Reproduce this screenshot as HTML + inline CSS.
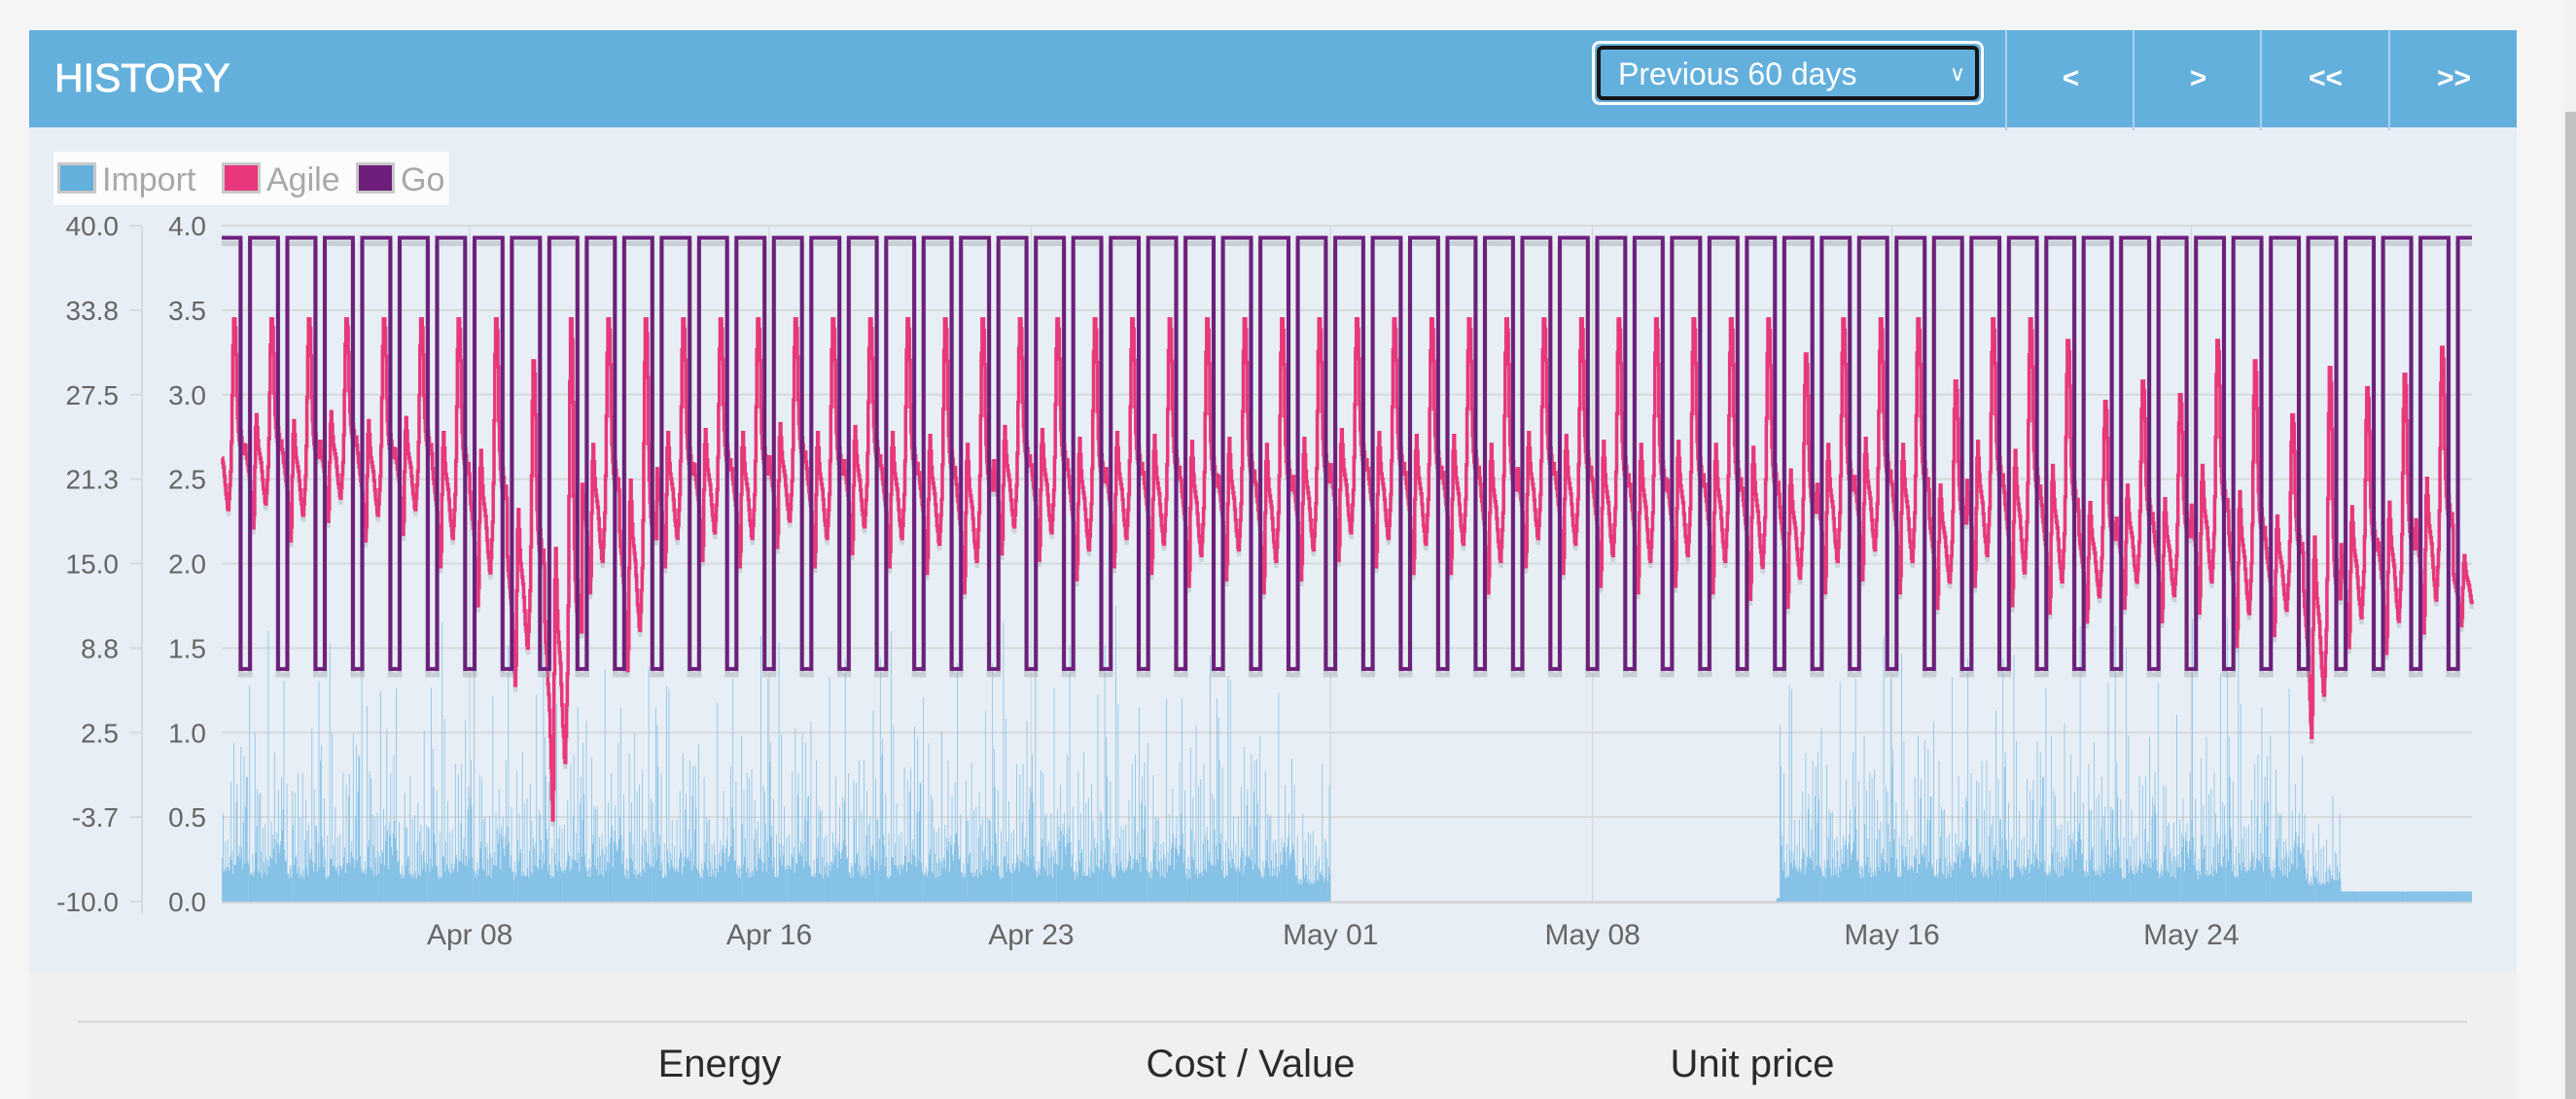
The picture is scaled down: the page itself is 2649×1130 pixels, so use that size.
<!DOCTYPE html>
<html><head><meta charset="utf-8">
<style>
html,body{margin:0;padding:0;width:2649px;height:1130px;overflow:hidden;background:#f5f5f5;font-family:"Liberation Sans",sans-serif;}
#panel{position:absolute;left:30px;top:31px;width:2558px;height:969px;background:#e7eef5;}
#header{position:absolute;left:0;top:0;width:2558px;height:100px;background:#64b0dd;}
#title{position:absolute;left:26px;top:26px;color:#fff;font-size:41px;-webkit-text-stroke:0.8px #fff;}
#sel{position:absolute;left:1607px;top:11px;width:403px;height:66px;border:3px solid #fff;border-radius:8px;box-sizing:border-box;}
#selin{position:absolute;left:2px;top:2px;right:2px;bottom:2px;border:4px solid #151515;border-radius:6px;background:#64b0dd;color:#fff;font-size:32px;line-height:50px;padding-left:18px;}
#selin span{position:absolute;right:10px;top:0;font-size:22px;}
.btn{position:absolute;top:0;height:103px;width:131px;border-left:2px solid #a9d2ec;color:#fff;font-weight:bold;font-size:30px;text-align:center;line-height:100px;}
#bottom{position:absolute;left:30px;top:1000px;width:2558px;height:130px;background:#f0f0f0;}
#sep{position:absolute;left:50px;top:49px;width:2457px;height:3px;background:#dcdcdc;}
.col{position:absolute;top:72px;font-size:40px;color:#2b2b2b;transform:translateX(-50%);}
#scroll{position:absolute;left:2638px;top:115px;width:11px;height:1015px;background:#c1c1c1;}
#track{position:absolute;left:2636px;top:0;width:13px;height:1130px;background:#f1f1f1;}
</style></head>
<body>
<div id="track"></div>
<div id="scroll"></div>
<div id="panel">
  <div id="header">
    <div id="title">HISTORY</div>
    <div id="sel"><div id="selin">Previous 60 days<span>&#8744;</span></div></div>
    <div class="btn" style="left:2032px">&lt;</div>
    <div class="btn" style="left:2163px">&gt;</div>
    <div class="btn" style="left:2294px">&lt;&lt;</div>
    <div class="btn" style="left:2426px">&gt;&gt;</div>
  </div>
</div>
<svg id="chart" width="2649" height="1000" style="position:absolute;left:0;top:0"></svg>
<div id="bottom">
  <div id="sep"></div>
  <div class="col" style="left:710px">Energy</div>
  <div class="col" style="left:1256px">Cost / Value</div>
  <div class="col" style="left:1772px">Unit price</div>
</div>
<script>
// ---- data ----
const leftTicks = ["40.0","33.8","27.5","21.3","15.0","8.8","2.5","-3.7","-10.0"];
const rightTicks = ["4.0","3.5","3.0","2.5","2.0","1.5","1.0","0.5","0.0"];
const xTickLabels = ["Apr 08","Apr 16","Apr 23","May 01","May 08","May 16","May 24"];
const xTickDays = [7,15,22,30,37,45,53]; // days after Apr 01
const chartStartDay = 0.37, chartEndDay = 60.5;
// Go tariff (p/kWh) high/low and low window hours
const goRates = [39.1, 7.2];
const goLowWindow = [21, 3];
// Agile daily values (p/kWh), one per day Apr 01 .. May 31
const agilePeak = [33.1,33.1,33.1,33.1,33.1,33.1,33.1,33.1,30.0,33.1,33.1,33.1,33.1,33.1,33.1,33.1,33.1,33.1,33.1,33.1,33.1,33.1,33.1,33.1,33.1,33.1,33.1,33.1,33.1,33.1,33.1,33.1,33.1,33.1,33.1,33.1,33.1,33.1,33.1,33.1,33.1,33.1,30.5,33.1,33.1,33.1,28.5,33.1,33.1,31.5,27.0,28.5,27.5,31.5,30.0,26.0,29.5,28.0,29.0,31.0,20.0];
const agileLow = [16.5,17.0,16.0,17.5,16.0,16.5,14.0,11.0,5.0,-5.5,12.0,6.0,14.0,14.5,14.0,15.5,14.0,15.0,14.0,13.5,12.0,15.0,14.5,13.0,14.0,13.5,12.5,13.0,12.0,13.0,14.5,14.0,13.5,13.5,12.0,14.0,13.5,12.5,12.0,12.5,12.0,11.5,11.0,12.0,13.0,12.0,11.0,12.5,11.0,10.5,10.0,11.0,10.0,10.5,8.0,9.0,1.0,8.0,7.5,9.0,10.0];
// half-hourly shape (0 = daily low, 1 = daily peak)
const agileShape = [0.42,0.38,0.36,0.33,0.3,0.28, 0.25,0.2,0.14,0.08,0.04,0.1, 0.32,0.5,0.56,0.5,0.44,0.4, 0.38,0.36,0.34,0.3,0.26,0.22, 0.2,0.16,0.15,0.2,0.26,0.32, 0.45,0.66,0.88,1,1,0.96, 0.84,0.66,0.56,0.5,0.46,0.44, 0.5,0.47,0.43,0.4,0.44,0.4];
// Import (kWh): per-day scale and half-hourly shape
const importScale = [1,1.1,0.9,1,1.2,0.8,1,1.05,0.9,1,1.1,0.95,1,0.85,1,1.1,0.9,1,1.05,0.95,0.9,1,1.1,0.9,1,0.95,1,1.05,0.9,0.5,0,0,0,0,0,0,0,0,0,0,0,0,1,0.95,1,1.05,0.9,1,0.95,1,1.05,0.9,0.95,1,1,1,0.4,0,0,0,0];
const importBase = [0.1,0.1,0.1,0.1,0.1,0.1,0.1,0.1,0.1,0.1,0.1,0.1,0.1,0.1,0.1,0.1,0.1,0.1,0.1,0.1,0.1,0.1,0.1,0.1,0.1,0.1,0.1,0.1,0.1,0.08,0,0,0,0,0,0,0,0,0,0,0,0.02,0.1,0.1,0.1,0.1,0.1,0.1,0.1,0.1,0.1,0.1,0.1,0.1,0.1,0.1,0.08,0.06,0.06,0.06,0.06];
const importShape = [0.9,1.5,0.6,0.3,0.2,1.2, 0.15,0.1,0.08,0.3,0.1,0.1, 1.6,0.4,0.3,1.1,0.2,0.5, 0.15,0.9,0.2,0.1,0.6,0.15, 0.12,0.7,0.2,0.1,0.3,1.3, 0.2,0.4,0.15,0.8,0.25,0.3, 0.5,1.4,0.3,0.2,0.6,0.3, 1.0,0.4,0.2,0.5,1.5,0.3];

// ---- scales ----
const PL=228, PR=2542, PT=232, PB=927;
const x = d => PL + (d - chartStartDay) / (chartEndDay - chartStartDay) * (PR - PL);
const yL = v => PB - (v + 10) / 50 * (PB - PT);
const yR = v => PB - v / 4 * (PB - PT);
const NS='http://www.w3.org/2000/svg';
const svg=document.getElementById('chart');
function mk(tag, attrs){const e=document.createElementNS(NS,tag);for(const k in attrs)e.setAttribute(k,attrs[k]);svg.appendChild(e);return e;}

// legend
let lg=mk('rect',{x:55,y:156,width:407,height:55,fill:'#fbfcfe'});


const legItems=[["Import","#64b0dd",59,105],["Agile","#e8377b",228,274],["Go","#6d1f7b",366,412]];
legItems.forEach(it=>{
  const s=mk('rect',{x:it[2]+1.5,y:168.5,width:37,height:29,fill:it[1],stroke:'#c8c8c8','stroke-width':3});
  
  
  const t=mk('text',{x:it[3],y:196,fill:'#a8a8a8','font-size':34});
  t.textContent=it[0];
  
  
});

// grid + y ticks
rightTicks.forEach((lab,i)=>{
  const yy=PT+i*(PB-PT)/8;
  const g=mk('line',{x1:PL,x2:PR,y1:yy,y2:yy,stroke:'#d6dadd','stroke-width':2});
  
  
  const tk=mk('line',{x1:134,x2:146,y1:yy,y2:yy,stroke:'#d6dadd','stroke-width':2});
  
  
  const tl=mk('text',{x:122,y:yy+10,fill:'#666','font-size':28,'text-anchor':'end'});
  tl.textContent=leftTicks[i];
  
  
  const tr=mk('text',{x:212,y:yy+10,fill:'#666','font-size':28,'text-anchor':'end'});
  tr.textContent=lab;
  
  
});
const ax=mk('line',{x1:146,x2:146,y1:PT,y2:PB+12,stroke:'#d6dadd','stroke-width':2});


xTickLabels.forEach((lab,i)=>{
  const xx=x(xTickDays[i]);
  const g=mk('line',{x1:xx,x2:xx,y1:PT,y2:PB,stroke:'#d6dadd','stroke-width':1.5});
  
  
  const t=mk('text',{x:xx,y:971,fill:'#666','font-size':30,'text-anchor':'middle'});
  t.textContent=lab;
  
  
});
const xa=mk('line',{x1:PL,x2:PR,y1:PB+1,y2:PB+1,stroke:'#d0d4d8','stroke-width':2});



// import bars
let ip='';
const bw=(x(1)-x(0))/48;
for(let d=0;d<agilePeak.length;d++){
  for(let s=0;s<48;s++){
    const t=d+s/48;
    if(t<chartStartDay||t>=chartEndDay) continue;
    if(d===41 && s<44) continue;
    const v=importBase[d]+importScale[d]*importShape[s]*(0.7+0.3*((d*7+s*3)%5)/4)*((s+d)%3===0?1.05:0.55);
    if(v<=0) continue;
    const xx=x(t), yy=yR(Math.min(v,1.75));
    ip+='M'+xx.toFixed(1)+' '+PB+'V'+yy.toFixed(1)+'h'+bw.toFixed(2)+'V'+PB+'Z';
  }
}
const imp=mk('path',{d:ip,fill:'#86c1e6',stroke:'none'});



// agile line
let ap=[];
for(let d=0;d<agilePeak.length;d++){
  for(let s=0;s<48;s++){
    const t=d+s/48;
    if(t<chartStartDay||t>chartEndDay) continue;
    const v=agileLow[d]+agileShape[s]*(agilePeak[d]-agileLow[d]);
    ap.push([x(t),yL(v)]);
  }
}
let ad='';
ap.forEach((p,i)=>{ad+=(i?'H'+p[0].toFixed(1)+'V':'M'+p[0].toFixed(1)+' ')+p[1].toFixed(1);});
const ash=mk('path',{d:ad,fill:'none',stroke:'#9aa0a6','stroke-opacity':0.35,'stroke-width':3.5,transform:'translate(0,5)'});


const al=mk('path',{d:ad,fill:'none',stroke:'#e8377b','stroke-width':3.5});



// go line
let gd='M'+PL+' '+yL(goRates[0]).toFixed(1);
for(let d=0;d<61;d++){
  const a=x(d+goLowWindow[0]/24), b=x(d+1+goLowWindow[1]/24);
  if(a>PR) break;
  gd+='H'+Math.min(a,PR).toFixed(1);
  if(a<PR){gd+='V'+yL(goRates[1]).toFixed(1)+'H'+Math.min(b,PR).toFixed(1)+'V'+yL(goRates[0]).toFixed(1);}
}
gd+='H'+PR;
const gsh=mk('path',{d:gd,fill:'none',stroke:'#9aa0a6','stroke-opacity':0.4,'stroke-width':5,transform:'translate(0,6)'});


const gl=mk('path',{d:gd,fill:'none',stroke:'#6d1f7b','stroke-width':4});


</script>
</body></html>
